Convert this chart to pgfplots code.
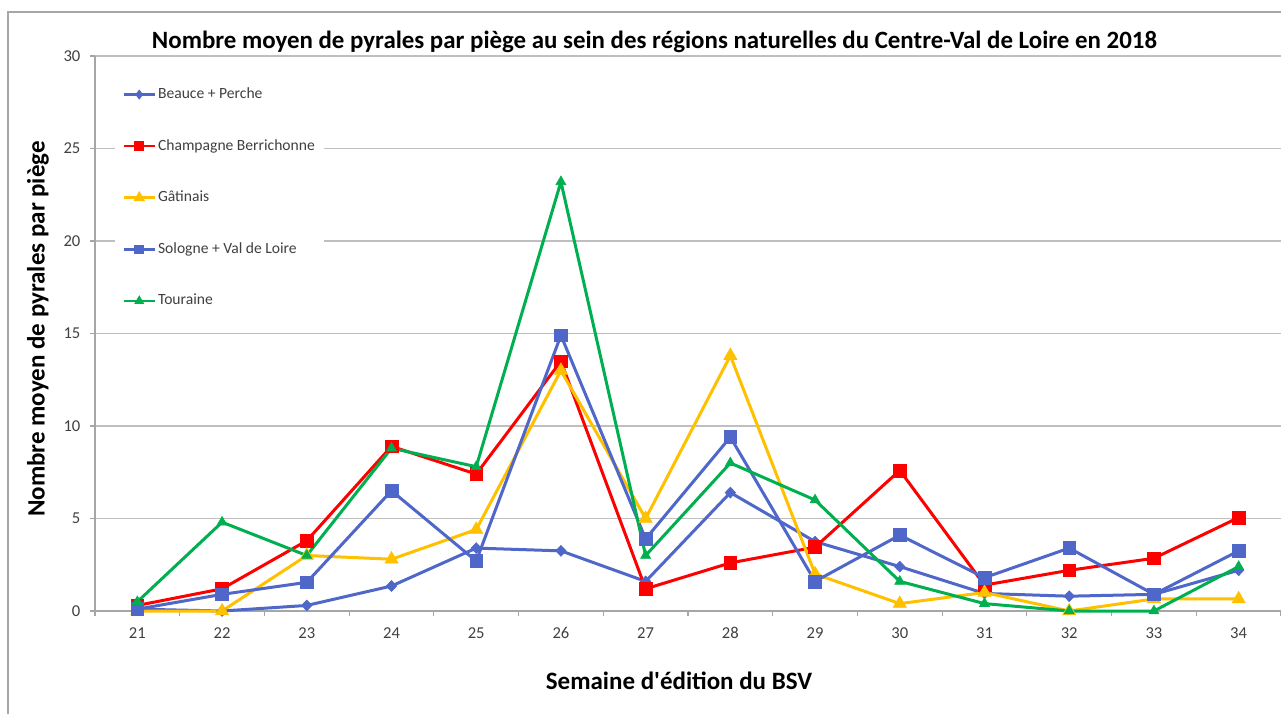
\documentclass[border=0pt]{standalone}
\usepackage{pgfplots}
\pgfplotsset{compat=1.18}
\usepackage{fontspec}
\setmainfont{Carlito}[Ligatures=TeXOff]
\definecolor{cblue}{HTML}{4E67C8}
\definecolor{cred}{HTML}{FF0000}
\definecolor{cyel}{HTML}{FFC000}
\definecolor{cgreen}{HTML}{00B050}
\definecolor{gridc}{HTML}{BFBFBF}
\definecolor{axisc}{HTML}{A6A6A6}
\definecolor{tickc}{HTML}{404040}
\begin{document}
\begin{tikzpicture}
\path[use as bounding box] (-47.5pt,-51pt) rectangle (593pt,305.5pt);
\clip (-47.5pt,-51pt) rectangle (593pt,305.5pt);
\draw[axisc, line width=0.75pt] (-43.5pt,-90pt) rectangle (640pt,299.5pt);
\begin{axis}[
  at={(0pt,0pt)}, anchor=south west,
  width=593pt, height=277.5pt, scale only axis,
  xmin=20.5, xmax=34.5, ymin=0, ymax=30,
  xtick={21,...,34},
  minor xtick={20.5,21.5,...,34.5},
  ytick={0,5,...,30},
  ymajorgrids,
  grid style={gridc, line width=0.6pt},
  axis lines=left,
  axis line style={-, axisc, line width=0.6pt},
  tick align=outside,
  major tick length=2.5pt, minor tick length=2.5pt,
  major x tick style={draw=none},
  minor x tick style={draw=axisc, line width=0.6pt},
  ytick style={draw=axisc, line width=0.6pt},
  /pgf/number format/assume math mode=true,
  tick label style={font=\fontsize{8.3}{10}\selectfont, text=tickc},
  xticklabel style={yshift=-2.2pt},
  yticklabel style={xshift=-1.3pt},
  clip=false,
  legend cell align=left,
  legend style={at={(rel axis cs:0.0169,0.962)}, anchor=north west, draw=none, fill=white,
    inner xsep=3.5pt, inner ysep=4pt,
    font=\fontsize{7.8}{9}\selectfont, text=tickc,
    row sep=16.7pt,
    nodes={inner sep=1pt, text height=5.5pt, text depth=1.6pt}},
  legend image code/.code={\draw[line width=1.3pt, mark repeat=2, mark phase=2, mark options={scale=0.55}] plot coordinates {(0pt,0pt) (7.75pt,0pt) (15.5pt,0pt)};},
]
\addplot[cblue, line width=1.5pt, mark=diamond*, mark size=2.7pt, mark options={xscale=1.3, line width=0.3pt}]
coordinates {(21,0.1) (22,0) (23,0.3) (24,1.35) (25,3.4) (26,3.25) (27,1.6) (28,6.4) (29,3.75) (30,2.4) (31,0.95) (32,0.8) (33,0.9) (34,2.2)};
\addlegendentry{Beauce + Perche}
\addplot[cred, line width=1.5pt, mark=square*, mark size=3.2pt, mark options={line width=0.3pt}]
coordinates {(21,0.3) (22,1.2) (23,3.8) (24,8.9) (25,7.4) (26,13.5) (27,1.2) (28,2.6) (29,3.45) (30,7.6) (31,1.4) (32,2.2) (33,2.85) (34,5.05)};
\addlegendentry{Champagne Berrichonne}
\addplot[cyel, line width=1.5pt, mark=triangle*, mark size=3.8pt, mark options={line width=0.3pt}]
coordinates {(21,0) (22,0) (23,3.0) (24,2.8) (25,4.4) (26,13.0) (27,5.0) (28,13.8) (29,2.0) (30,0.4) (31,1.0) (32,0) (33,0.65) (34,0.65)};
\addlegendentry{Gâtinais}
\addplot[cblue, line width=1.5pt, mark=square*, mark size=3.2pt, mark options={line width=0.3pt}]
coordinates {(21,0.1) (22,0.9) (23,1.55) (24,6.5) (25,2.7) (26,14.9) (27,3.9) (28,9.4) (29,1.6) (30,4.1) (31,1.8) (32,3.4) (33,0.9) (34,3.25)};
\addlegendentry{Sologne + Val de Loire}
\addplot[cgreen, line width=1.5pt, mark=triangle*, mark size=2.9pt, mark options={line width=0.3pt}]
coordinates {(21,0.5) (22,4.8) (23,3.0) (24,8.8) (25,7.8) (26,23.2) (27,3.0) (28,8.0) (29,6.0) (30,1.6) (31,0.4) (32,0) (33,0) (34,2.4)};
\addlegendentry{Touraine}
\end{axis}
\node[font=\bfseries\fontsize{12.45}{14}\selectfont] at (279.75pt,284.5pt) {Nombre moyen de pyrales par piège au sein des régions naturelles du Centre-Val de Loire en 2018};
\node[font=\bfseries\fontsize{12.5}{14}\selectfont, rotate=90] at (-28.5pt,141pt) {Nombre moyen de pyrales par piège};
\node[font=\bfseries\fontsize{12.5}{14}\selectfont] at (292pt,-35pt) {Semaine d'édition du BSV};
\end{tikzpicture}
\end{document}
